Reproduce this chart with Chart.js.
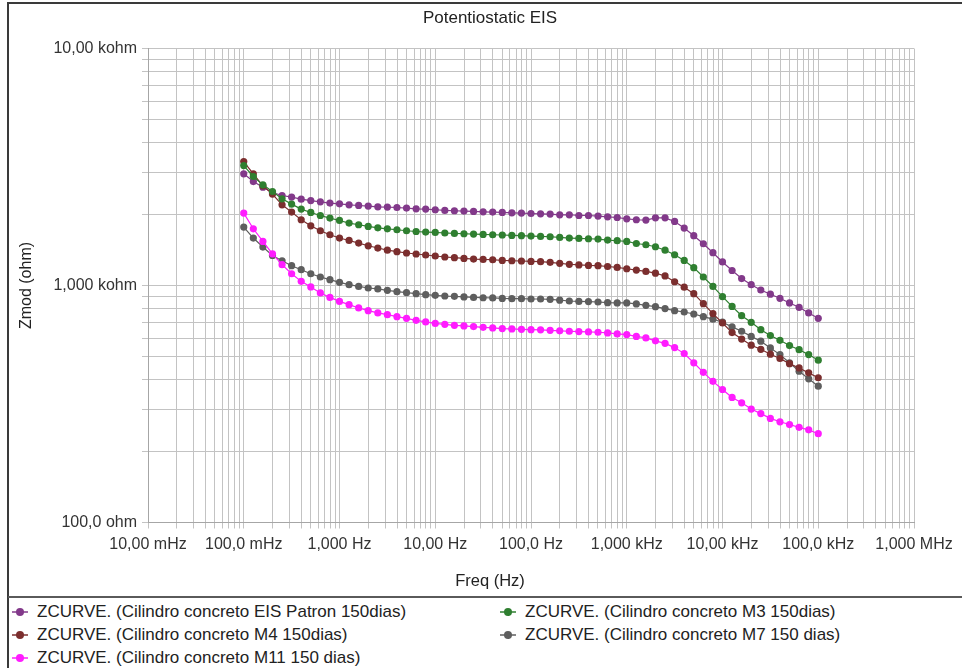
<!DOCTYPE html>
<html>
<head>
<meta charset="utf-8">
<title>Potentiostatic EIS</title>
<script src="https://cdn.jsdelivr.net/npm/chart.js@4.4.1/dist/chart.umd.min.js"></script>
<style>
  html, body { margin: 0; padding: 0; background: #fff; }
  body { width: 962px; height: 668px; position: relative; overflow: hidden;
         font-family: "Liberation Sans", Arial, sans-serif; }
  #frame { position: absolute; left: 7px; top: 2px; width: 970px; height: 680px;
           border-top: 2px solid #3a3a3a; border-left: 2px solid #3a3a3a; }
  #plot { position: absolute; left: 0; top: 0; }
  #sep { position: absolute; left: 8px; top: 596px; width: 960px; border-top: 2px solid #5a5a5a; }
  .caption { position: absolute; left: 8px; width: 964px; text-align: center; color: #222;
             line-height: 20px; white-space: nowrap; }
  #chartTitle { top: 8px; font-size: 17px; }
  #xTitle { top: 570px; font-size: 16.5px; }
  .item { position: absolute; font-size: 17px; color: #222; line-height: 20px; white-space: nowrap; }
  .item svg { position: absolute; left: 0; top: 5px; }
  .item span { position: absolute; left: 25px; top: 0; }
</style>
</head>
<body>
<div id="frame"></div>
<canvas id="plot" width="962" height="594"></canvas>
<div id="chartTitle" class="caption">Potentiostatic EIS</div>
<div id="xTitle" class="caption">Freq (Hz)</div>
<div id="sep"></div>
<div id="legend"></div>
<script>
// Sweep frequencies (Hz), 10 points per decade
const freqHz = [
  0.1, 0.1259, 0.1585, 0.1995, 0.2512, 0.3162, 0.3981, 0.5012, 0.631, 0.7943,
  1, 1.259, 1.585, 1.995, 2.512, 3.162, 3.981, 5.012, 6.31, 7.943,
  10, 12.59, 15.85, 19.95, 25.12, 31.62, 39.81, 50.12, 63.1, 79.43,
  100, 125.9, 158.5, 199.5, 251.2, 316.2, 398.1, 501.2, 631, 794.3,
  1000, 1259, 1585, 1995, 2512, 3162, 3981, 5012, 6310, 7943,
  10000, 12590, 15850, 19950, 25120, 31620, 39810, 50120, 63100, 79430,
  100000
];

// |Z| in ohm for each specimen
const zPatron = [
  2960, 2746, 2600, 2468, 2397, 2360, 2314, 2283, 2255, 2227,
  2211, 2190, 2176, 2163, 2148, 2142, 2134, 2121, 2107, 2101,
  2087, 2073, 2067, 2061, 2053, 2046, 2040, 2033, 2027, 2021,
  2013, 2007, 2001, 1988, 1988, 1974, 1974, 1963, 1949, 1936,
  1912, 1894, 1888, 1930, 1930, 1863, 1747, 1622, 1500, 1375,
  1257, 1157, 1070, 1008, 957, 919, 883, 844, 809, 766,
  727
];
const zM3 = [
  3207, 2883, 2659, 2493, 2321, 2205, 2101, 2033, 1974, 1925,
  1881, 1834, 1804, 1775, 1752, 1735, 1719, 1702, 1690, 1681,
  1674, 1665, 1658, 1653, 1648, 1642, 1637, 1633, 1627, 1622,
  1617, 1611, 1606, 1595, 1586, 1580, 1575, 1570, 1555, 1545,
  1535, 1504, 1486, 1457, 1409, 1348, 1276, 1189, 1086, 991,
  897, 816, 746, 699, 651, 615, 587, 558, 536, 511,
  484
];
const zM4 = [
  3334, 2960, 2634, 2430, 2190, 2040, 1894, 1786, 1702, 1637,
  1586, 1549, 1510, 1471, 1439, 1409, 1389, 1371, 1358, 1345,
  1332, 1319, 1310, 1301, 1293, 1288, 1284, 1276, 1272, 1269,
  1264, 1260, 1252, 1240, 1229, 1221, 1215, 1212, 1203, 1192,
  1177, 1162, 1147, 1127, 1097, 1037, 984, 924, 838, 761,
  695, 633, 594, 560, 538, 513, 492, 468, 449, 428,
  408
];
const zM7 = [
  1764, 1586, 1453, 1339, 1272, 1212, 1166, 1121, 1086, 1058,
  1031, 1008, 991, 976, 967, 954, 942, 933, 924, 915,
  909, 903, 900, 895, 891, 888, 886, 882, 880, 880,
  877, 877, 874, 867, 860, 857, 855, 852, 846, 844,
  844, 836, 825, 814, 799, 783, 773, 758, 739, 721,
  700, 669, 641, 610, 582, 545, 511, 472, 435, 404,
  376
];
const zM11 = [
  2021, 1735, 1535, 1361, 1224, 1121, 1041, 986, 930, 891,
  857, 830, 804, 783, 766, 753, 739, 727, 713, 702,
  692, 686, 679, 675, 671, 666, 662, 658, 656, 653,
  651, 650, 647, 644, 641, 639, 637, 635, 631, 625,
  621, 610, 601, 584, 570, 547, 516, 472, 430, 394,
  364, 337, 320, 301, 288, 275, 266, 259, 252, 246,
  237
];

const seriesLabels = [
  "ZCURVE. (Cilindro concreto EIS Patron 150dias)",
  "ZCURVE. (Cilindro concreto M3 150dias)",
  "ZCURVE. (Cilindro concreto M4 150dias)",
  "ZCURVE. (Cilindro concreto M7 150 dias)",
  "ZCURVE. (Cilindro concreto M11 150 dias)"
];
const seriesValues = [zPatron, zM3, zM4, zM7, zM11];
const seriesColors = ["#82398a", "#2f7f30", "#7b2e2e", "#5e5e5e", "#ff1cff"];

// Decade positions and their labels
const xDecades = [0.01, 0.1, 1, 10, 100, 1000, 10000, 100000, 1000000];
const xTickLabels = ["10,00 mHz", "100,0 mHz", "1,000 Hz", "10,00 Hz", "100,0 Hz",
                     "1,000 kHz", "10,00 kHz", "100,0 kHz", "1,000 MHz"];
const yDecades = [100, 1000, 10000];
const yTickLabels = ["100,0 ohm", "1,000 kohm", "10,00 kohm"];

const FONT = "'Liberation Sans', Arial, sans-serif";
Chart.defaults.font.family = FONT;

// 1..9 x 10^n grid lines between the first and last decade
function logGrid(decades) {
  const out = [];
  for (let i = 0; i < decades.length - 1; i++) {
    for (let m = 1; m <= 9; m++) out.push(Number((m * decades[i]).toPrecision(6)));
  }
  out.push(decades[decades.length - 1]);
  return out;
}
function decadeLabel(v, decades, labels) {
  const i = decades.findIndex(d => Math.abs(d - v) / d < 1e-6);
  return i >= 0 ? labels[i] : "";
}

const datasets = seriesLabels.map((label, s) => ({
  label,
  data: freqHz.map((f, i) => ({ x: f, y: seriesValues[s][i] })),
  borderColor: seriesColors[s],
  backgroundColor: seriesColors[s],
  pointBackgroundColor: seriesColors[s],
  pointBorderColor: seriesColors[s],
  pointRadius: 3.6,
  pointBorderWidth: 0,
  pointHoverRadius: 3.6,
  borderWidth: 1.2,
  tension: 0,
  fill: false
}));
// draw order: later datasets are drawn on top
const drawOrder = [4, 1, 2, 5, 3];
datasets.forEach((d, i) => { d.order = drawOrder[i]; });

const gridColor = "#c3c3c3";

const chart = new Chart(document.getElementById("plot"), {
  type: "line",
  data: { datasets },
  options: {
    responsive: false,
    animation: false,
    events: [],
    layout: { padding: { left: 10, right: 48, top: 48.5, bottom: 0 } },
    plugins: {
      legend: { display: false },
      tooltip: { enabled: false },
      title: { display: false }
    },
    scales: {
      x: {
        type: "logarithmic",
        position: "bottom",
        min: xDecades[0],
        max: xDecades[xDecades.length - 1],
        afterBuildTicks: s => { s.ticks = logGrid(xDecades).map(v => ({ value: v })); },
        afterFit: s => { s.height = 71.5; },
        ticks: {
          autoSkip: false, maxRotation: 0, minRotation: 0, padding: 6,
          color: "#333", font: { size: 16 },
          callback: v => decadeLabel(v, xDecades, xTickLabels)
        },
        grid: { color: gridColor, lineWidth: 1, tickLength: 6, drawTicks: true },
        border: { display: true, color: "#a6a6a6", width: 1 },
        title: { display: false }
      },
      y: {
        type: "logarithmic",
        position: "left",
        min: yDecades[0],
        max: yDecades[yDecades.length - 1],
        afterBuildTicks: s => { s.ticks = logGrid(yDecades).map(v => ({ value: v })); },
        afterFit: s => { s.width = 138; },
        ticks: {
          autoSkip: false, padding: 5,
          color: "#333", font: { size: 16 },
          callback: v => decadeLabel(v, yDecades, yTickLabels)
        },
        grid: { color: gridColor, lineWidth: 1, tickLength: 6, drawTicks: true },
        border: { display: true, color: "#a6a6a6", width: 1 },
        title: {
          display: true, text: "Zmod (ohm)", color: "#222",
          font: { size: 16 }, padding: { top: 7, bottom: 0 }
        }
      }
    }
  }
});

// Two-column legend under the separator line, built from the chart's datasets
const legendSlots = [[0, 0], [1, 0], [0, 1], [1, 1], [0, 2]];
const legendEl = document.getElementById("legend");
chart.data.datasets.forEach((d, i) => {
  const [col, row] = legendSlots[i];
  const item = document.createElement("div");
  item.className = "item";
  item.style.left = (col ? 500 : 12) + "px";
  item.style.top = (602 + row * 23) + "px";
  const c = d.borderColor;
  item.innerHTML =
    '<svg width="16" height="10"><line x1="0" y1="5" x2="16" y2="5" stroke="' + c +
    '" stroke-width="1.5"/><circle cx="8" cy="5" r="4" fill="' + c + '"/></svg>' +
    '<span>' + d.label + '</span>';
  legendEl.appendChild(item);
});
</script>
</body>
</html>
